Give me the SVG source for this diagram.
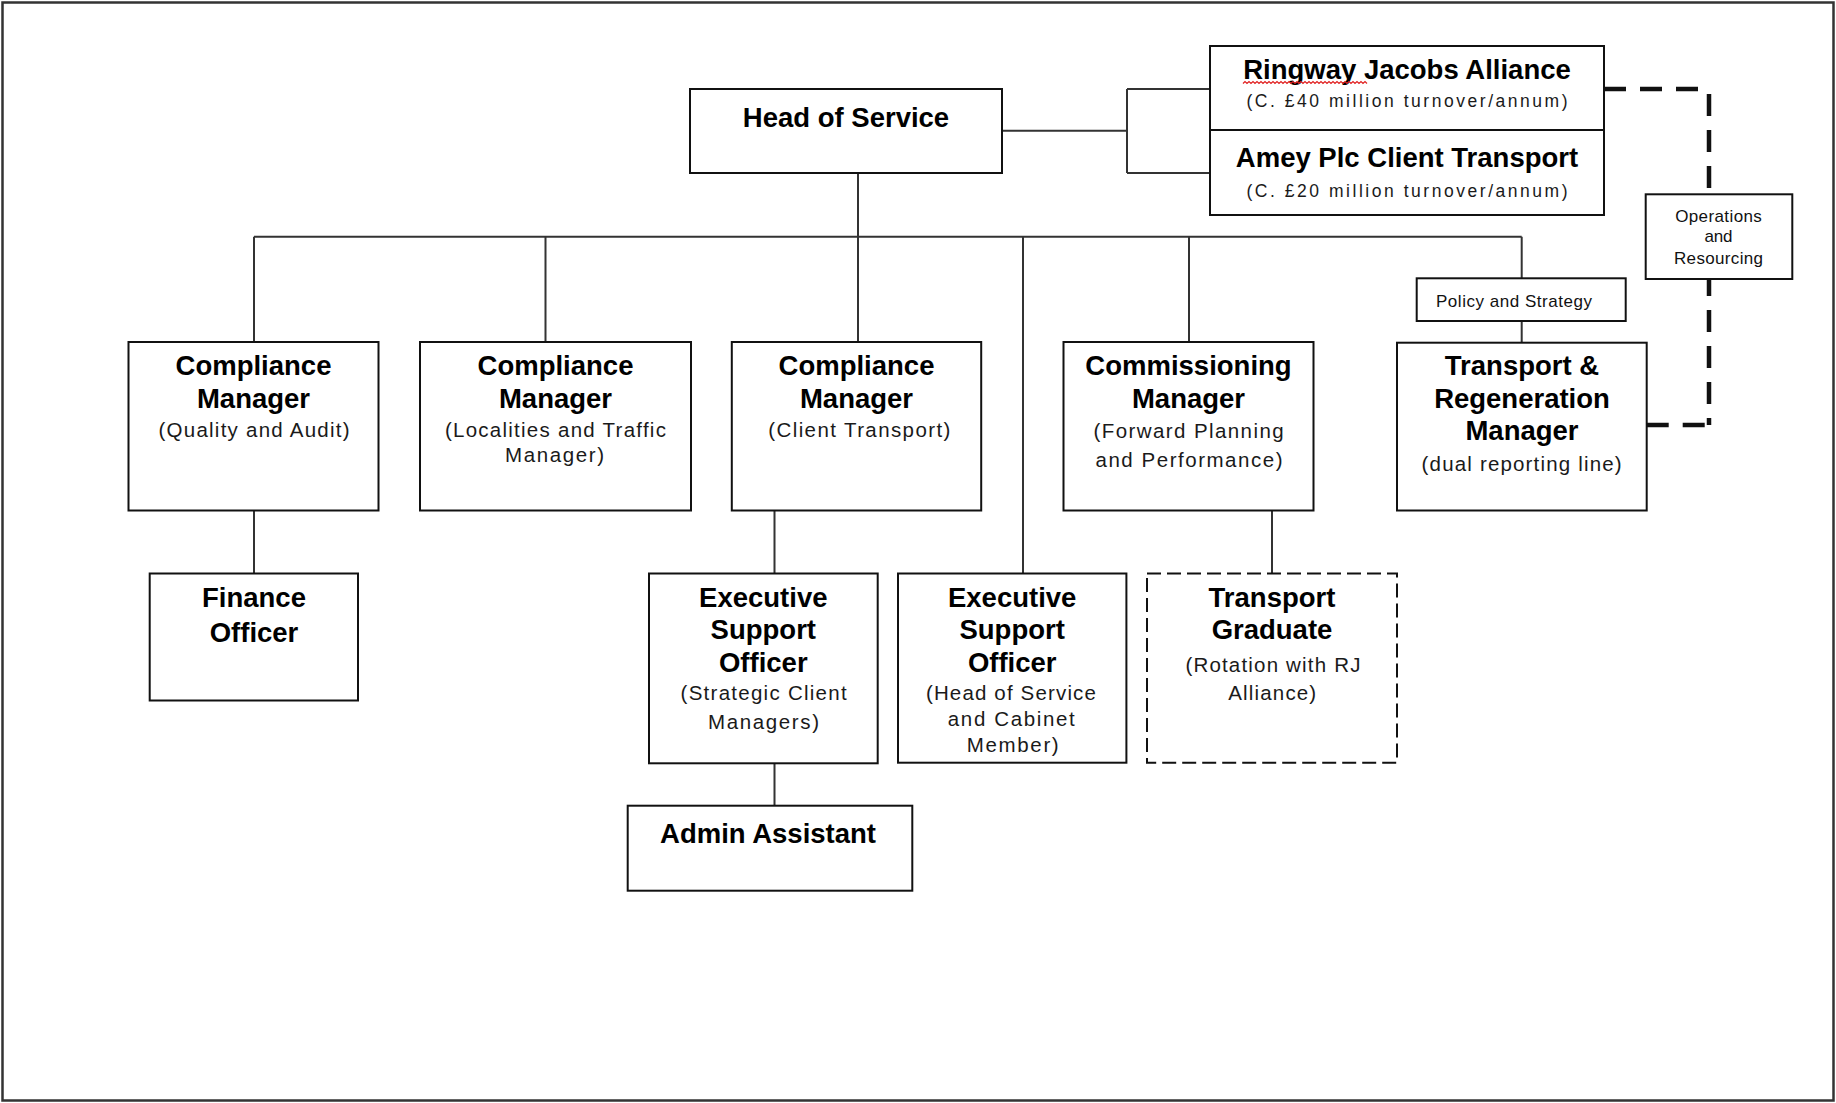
<svg xmlns="http://www.w3.org/2000/svg" width="1836" height="1103" viewBox="0 0 1836 1103">
  <style>
    .box { fill: #fff; stroke: #111; stroke-width: 2; }
    .dashbox { fill: #fff; stroke: #111; stroke-width: 2; stroke-dasharray: 14 6; }
    .link { fill: none; stroke: #333; stroke-width: 2; }
    .dotted { fill: none; stroke: #111; stroke-width: 4.5; stroke-dasharray: 22 14; }
    .title { font-family: "Liberation Sans", Arial, sans-serif; font-weight: bold; font-size: 27.5px; fill: #000; text-anchor: middle; }
    .sub { font-family: "Liberation Sans", Arial, sans-serif; font-size: 20.5px; fill: #1a1a1a; text-anchor: middle; }
    .sub.firm { font-size: 17.5px; }
    .small { font-family: "Liberation Sans", Arial, sans-serif; font-size: 17px; fill: #111; }
  </style>

  <!-- page frame -->
  <rect x="2.5" y="2.5" width="1831" height="1098" fill="#fff" stroke="#333" stroke-width="2.5"/>

  <!-- connectors -->
  <g id="connectors">
    <path class="link" d="M1002,130.7 H1127 M1127,89 V173 M1127,89 H1210 M1127,173 H1210"/>
    <path class="link" d="M858,173 V342"/>
    <path class="link" d="M254,236.7 H1521.7"/>
    <path class="link" d="M254,236.7 V342 M545.5,236.7 V342 M1023,236.7 V573.5 M1189,236.7 V342 M1521.7,236.7 V278.3 M1521.7,321 V342.7"/>
    <path class="link" d="M254,510.5 V573.5 M774.5,510.5 V573.5 M774.5,763.3 V805.7 M1272,510.5 V573.5"/>
    <!-- dual reporting line: alliance to transport & regeneration -->
    <path class="dotted" d="M1604,89 H1709"/>
    <path class="dotted" d="M1709,94 V425"/>
    <path class="dotted" d="M1646.7,425 H1709"/>
  </g>

  <g id="head-of-service">
    <rect class="box" x="690" y="89" width="312" height="84"/>
    <text class="title" x="846" y="127">Head of Service</text>
  </g>

  <g id="ringway-jacobs">
    <rect class="box" x="1210" y="46" width="394" height="84"/>
    <text class="title" x="1407" y="79">Ringway Jacobs Alliance</text>
    <path d="M1243,83.5 l2,-2 l2,2 l2,-2 l2,2 l2,-2 l2,2 l2,-2 l2,2 l2,-2 l2,2 l2,-2 l2,2 l2,-2 l2,2 l2,-2 l2,2 l2,-2 l2,2 l2,-2 l2,2 l2,-2 l2,2 l2,-2 l2,2 l2,-2 l2,2 l2,-2 l2,2 l2,-2 l2,2 l2,-2 l2,2 l2,-2 l2,2 l2,-2 l2,2 l2,-2 l2,2 l2,-2 l2,2 l2,-2 l2,2 l2,-2 l2,2 l2,-2 l2,2 l2,-2 l2,2 l2,-2 l2,2 l2,-2 l2,2 l2,-2 l2,2 l2,-2 l2,2 l2,-2 l2,2 l2,-2 l2,2 l2,-2 l2,2" fill="none" stroke="#e02020" stroke-width="1.2"/>
    <text class="sub firm" x="1407" y="107" textLength="321">(C. £40 million turnover/annum)</text>
  </g>

  <g id="amey-client-transport">
    <rect class="box" x="1210" y="130" width="394" height="85"/>
    <text class="title" x="1407" y="167">Amey Plc Client Transport</text>
    <text class="sub firm" x="1407" y="196.5" textLength="321">(C. £20 million turnover/annum)</text>
  </g>

  <g id="operations-resourcing">
    <rect class="box" x="1645.7" y="194.3" width="146.6" height="84.7"/>
    <text class="small" x="1718.5" y="221.7" text-anchor="middle" textLength="86.7">Operations</text>
    <text class="small" x="1718.5" y="241.7" text-anchor="middle" textLength="28">and</text>
    <text class="small" x="1718.5" y="264" text-anchor="middle" textLength="89">Resourcing</text>
  </g>

  <g id="policy-strategy">
    <rect class="box" x="1416.7" y="278.3" width="209" height="42.7"/>
    <text class="small" x="1436" y="307" textLength="156">Policy and Strategy</text>
  </g>

  <g id="compliance-quality">
    <rect class="box" x="128.5" y="342" width="250" height="168.5"/>
    <text class="title" x="253.5" y="375">Compliance</text>
    <text class="title" x="253.5" y="407.5">Manager</text>
    <text class="sub" x="254" y="436.5" textLength="191">(Quality and Audit)</text>
  </g>

  <g id="compliance-localities">
    <rect class="box" x="420" y="342" width="271" height="168.5"/>
    <text class="title" x="555.5" y="375">Compliance</text>
    <text class="title" x="555.5" y="407.5">Manager</text>
    <text class="sub" x="555.4" y="436.5" textLength="221">(Localities and Traffic</text>
    <text class="sub" x="554.5" y="462" textLength="99">Manager)</text>
  </g>

  <g id="compliance-client">
    <rect class="box" x="731.8" y="342" width="249.4" height="168.5"/>
    <text class="title" x="856.5" y="375">Compliance</text>
    <text class="title" x="856.5" y="407.5">Manager</text>
    <text class="sub" x="859.3" y="436.5" textLength="182">(Client Transport)</text>
  </g>

  <g id="commissioning-manager">
    <rect class="box" x="1063.5" y="342" width="250" height="168.5"/>
    <text class="title" x="1188.5" y="375">Commissioning</text>
    <text class="title" x="1188.5" y="407.5">Manager</text>
    <text class="sub" x="1188.6" y="438.3" textLength="190">(Forward Planning</text>
    <text class="sub" x="1189" y="466.7" textLength="187">and Performance)</text>
  </g>

  <g id="transport-regeneration">
    <rect class="box" x="1397" y="342.7" width="249.7" height="167.8"/>
    <text class="title" x="1522" y="375">Transport &amp;</text>
    <text class="title" x="1522" y="408">Regeneration</text>
    <text class="title" x="1522" y="440">Manager</text>
    <text class="sub" x="1521.6" y="471" textLength="200">(dual reporting line)</text>
  </g>

  <g id="finance-officer">
    <rect class="box" x="149.7" y="573.5" width="208.3" height="127"/>
    <text class="title" x="254" y="606.7">Finance</text>
    <text class="title" x="254" y="641.7">Officer</text>
  </g>

  <g id="eso-strategic">
    <rect class="box" x="649" y="573.5" width="228.7" height="189.8"/>
    <text class="title" x="763.3" y="606.7">Executive</text>
    <text class="title" x="763.3" y="639">Support</text>
    <text class="title" x="763.3" y="671.7">Officer</text>
    <text class="sub" x="763.6" y="700" textLength="166">(Strategic Client</text>
    <text class="sub" x="763.5" y="729.3" textLength="111">Managers)</text>
  </g>

  <g id="eso-head-cabinet">
    <rect class="box" x="898" y="573.5" width="228.4" height="189.2"/>
    <text class="title" x="1012.2" y="606.7">Executive</text>
    <text class="title" x="1012.2" y="639">Support</text>
    <text class="title" x="1012.2" y="671.7">Officer</text>
    <text class="sub" x="1010.9" y="700" textLength="170">(Head of Service</text>
    <text class="sub" x="1011.3" y="725.7" textLength="127">and Cabinet</text>
    <text class="sub" x="1012.7" y="751.7" textLength="92">Member)</text>
  </g>

  <g id="transport-graduate">
    <rect class="dashbox" x="1147" y="573.5" width="250" height="189.2"/>
    <text class="title" x="1272" y="606.7">Transport</text>
    <text class="title" x="1272" y="639">Graduate</text>
    <text class="sub" x="1272.9" y="672.3" textLength="175">(Rotation with RJ</text>
    <text class="sub" x="1272.2" y="700" textLength="88">Alliance)</text>
  </g>

  <g id="admin-assistant">
    <rect class="box" x="627.7" y="805.7" width="284.6" height="85"/>
    <text class="title" x="768" y="843.3">Admin Assistant</text>
  </g>
</svg>
